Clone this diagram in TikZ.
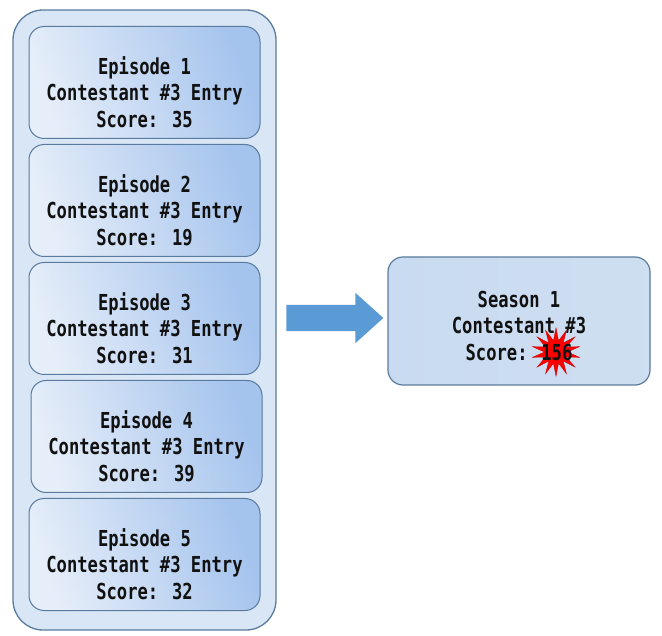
\documentclass[tikz,border=0pt]{standalone}
\usepackage{fontspec}
\usepackage{tikz}
\usetikzlibrary{positioning, shapes.geometric, shapes.arrows, fit, backgrounds}
\newfontfamily\boxfont[FakeStretch=0.78]{DejaVu Sans Mono}
\definecolor{ink}{HTML}{111111}
\definecolor{rim}{HTML}{5A7B9D}
\definecolor{outerfill}{HTML}{D9E6F5}
\definecolor{eplight}{HTML}{E6EEF9}
\definecolor{epdark}{HTML}{A4C3ED}
\definecolor{sslight}{HTML}{EAF1F9}
\definecolor{ssdark}{HTML}{C9DBF0}
\definecolor{arrowblue}{HTML}{5B9BD5}
\tikzset{
  txt/.style={font=\boxfont\bfseries\fontsize{22}{26.5}\selectfont, text=ink, align=center},
  epbox/.style={rounded corners=15pt, draw=rim, line width=1pt,
    left color=eplight, right color=epdark, shading angle=110,
    minimum width=231pt, minimum height=112pt, inner sep=0pt,
    label={[txt, yshift=-9.5pt]center:{#1}}},
  outerbox/.style={rounded corners=30pt, draw=rim, line width=1.3pt, fill=outerfill, inner sep=0pt},
  ssbox/.style={rounded corners=15pt, draw=rim, line width=1.2pt,
    left color=ssdark, middle color=sslight, right color=ssdark!90!white,
    minimum width=262pt, minimum height=128pt, inner sep=0pt},
  bigarrow/.style={single arrow, fill=arrowblue, draw=none, inner xsep=0pt, inner ysep=13pt,
    minimum height=97pt, single arrow head extend=12pt,
    single arrow tip angle=84},
  burst/.style={star, star points=14, star point ratio=2.1, fill=red, draw=red!80!black,
    line width=0.4pt, minimum size=48pt, inner sep=0pt},
}
\begin{document}
\begin{tikzpicture}[x=1pt, y=-1pt, node distance=5pt]
  \useasboundingbox (0,0) rectangle (662,636);
  % episodes
  \node[epbox={Episode 1\\Contestant \#3 Entry\\Score: 35}] (ep1) at (144.5,82.5) {};
  \node[epbox={Episode 2\\Contestant \#3 Entry\\Score: 19}, below=of ep1] (ep2) {};
  \node[epbox={Episode 3\\Contestant \#3 Entry\\Score: 31}, below=of ep2] (ep3) {};
  \node[epbox={Episode 4\\Contestant \#3 Entry\\Score: 39}, below=of ep3, xshift=2pt] (ep4) {};
  \node[epbox={Episode 5\\Contestant \#3 Entry\\Score: 32}, below=of ep4, xshift=-2pt] (ep5) {};
  \begin{scope}[on background layer]
    \node[outerbox, fit=(ep1)(ep5), inner xsep=15.5pt, inner ysep=17.5pt, yshift=-1.5pt] (season) {};
  \end{scope}
  % total
  \node[ssbox] (total) at (519,321) {};
  \node[burst] (bang) at (556,352) {};
  \node[txt, yshift=-5pt] (totaltxt) at (total.center) {Season 1\\Contestant \#3\\Score: 156};
  \node[bigarrow] (step) at (327.5,318) {};
\end{tikzpicture}
\end{document}
